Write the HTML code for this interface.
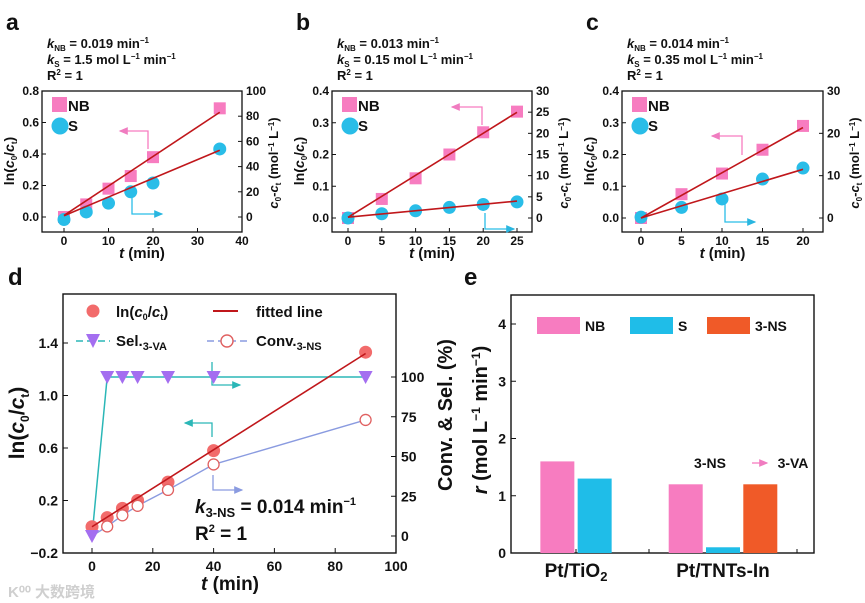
<!DOCTYPE html>
<html><head><meta charset="utf-8"><style>
body{margin:0;background:#fff;}
svg{display:block;font-family:"Liberation Sans","Noto Sans CJK SC",sans-serif;font-weight:bold;}
</style></head><body>
<svg id="fig" width="865" height="603" viewBox="0 0 865 603" xmlns="http://www.w3.org/2000/svg">
<defs>
<marker id="ap" markerWidth="8" markerHeight="8" refX="6" refY="3" orient="auto"><path d="M0,0 L7,3 L0,6 z" fill="#f07cc0"/></marker>
<marker id="ab" markerWidth="8" markerHeight="8" refX="6" refY="3" orient="auto"><path d="M0,0 L7,3 L0,6 z" fill="#29b6e0"/></marker>
<marker id="at" markerWidth="8" markerHeight="8" refX="6" refY="3" orient="auto"><path d="M0,0 L7,3 L0,6 z" fill="#2bb7b7"/></marker>
<marker id="al" markerWidth="8" markerHeight="8" refX="6" refY="3" orient="auto"><path d="M0,0 L7,3 L0,6 z" fill="#8a9be0"/></marker>
</defs>
</svg>
<script>
// ===== Panel a data =====
const aTime=[0,5,10,15,20,35];
const aNB=[0,0.08,0.18,0.26,0.38,0.69];
const aS=[-2,4,11,20,27,54];
const aFitNB=[0.01,0.665];
const aFitS=[1,53];
// ===== Panel b data =====
const bTime=[0,5,10,15,20,25];
const bNB=[0,0.06,0.125,0.2,0.27,0.335];
const bS=[0,1,1.7,2.5,3.2,3.8];
const bFitNB=[0.002,0.333];
const bFitS=[0.2,4];
// ===== Panel c data =====
const cTime=[0,5,10,15,20];
const cNB=[0,0.075,0.14,0.215,0.29];
const cS=[0.2,2.5,4.5,9.2,11.8];
const cFitNB=[0,0.285];
const cFitS=[0,11.5];
// ===== Panel d data =====
const dTime=[0,5,10,15,25,40,90];
const dLn=[0,0.07,0.14,0.2,0.34,0.58,1.33];
const dSel=[0,100,100,100,100,100,100];
const dConvTime=[5,10,15,25,40,90];
const dConv=[6,13,19,29,45,73];
const dFit=[0,1.32];
const dXTicks=[0,20,40,60,80,100];
const dYTicks=[-0.2,0.2,0.6,1.0,1.4];
const dRTicks=[0,25,50,75,100];
// ===== Panel e data =====
const eCategories=["Pt/TiO2","Pt/TNTs-In"];
const eNB=[1.6,1.2];
const eS=[1.3,0.1];
const eNS=[null,1.2];
const eYTicks=[0,1,2,3,4];

const svg=document.getElementById('fig');
const NS='http://www.w3.org/2000/svg';
function el(tag,attrs,parent){const e=document.createElementNS(NS,tag);for(const k in attrs)e.setAttribute(k,attrs[k]);(parent||svg).appendChild(e);return e;}
function txt(x,y,s,size,anchor,parent,extra){const t=el('text',Object.assign({x:x,y:y,'font-size':size,'text-anchor':anchor||'middle',fill:'#111'},extra||{}),parent);t.innerHTML=s;return t;}
function lin(d0,d1,r0,r1){return v=>r0+(v-d0)*(r1-r0)/(d1-d0);}

const PINK='#f77cc0',BLUE='#29bde8',RED='#c0171b';

function smallPanel(cfg){
  const g=el('g',{});
  
  
  const X=lin(cfg.xd[0],cfg.xd[1],cfg.xPix[0],cfg.xPix[1]);
  const YL=lin(0,cfg.ly[1],cfg.y0zero,91);
  const YR=lin(0,cfg.ry[1],cfg.y0zero,91);
  const frame=el('rect',{x:cfg.x0,y:91,width:cfg.x1-cfg.x0,height:141,fill:'none',stroke:'#111','stroke-width':1.3},g);
  
  
  cfg.xt.forEach(v=>{el('line',{x1:X(v),x2:X(v),y1:232,y2:228,stroke:'#111'},g);const t=txt(X(v),245,v,12,'middle',g);});
  cfg.lt.forEach(v=>{el('line',{x1:cfg.x0,x2:cfg.x0+4,y1:YL(v),y2:YL(v),stroke:'#111'},g);const t=txt(cfg.x0-3,YL(v)+4,v.toFixed(1),12,'end',g);});
  cfg.rt.forEach(v=>{el('line',{x1:cfg.x1,x2:cfg.x1-4,y1:YR(v),y2:YR(v),stroke:'#111'},g);const t=txt(cfg.x1+4,YR(v)+4,v,12,'start',g);});
  const xt=txt((cfg.x0+cfg.x1)/2,258,'<tspan font-style="italic">t</tspan> (min)',15,'middle',g);
  
  const yl=txt(0,0,'ln(<tspan font-style="italic">c</tspan><tspan font-size="8" dy="3">0</tspan><tspan dy="-3">/</tspan><tspan font-style="italic">c</tspan><tspan font-size="8" dy="3">t</tspan><tspan dy="-3">)</tspan>',14,'middle',g,{transform:`translate(${cfg.x0-28},161) rotate(-90)`});
  
  const yr=txt(0,0,'<tspan font-style="italic">c</tspan><tspan font-size="8" dy="3">0</tspan><tspan dy="-3">-</tspan><tspan font-style="italic">c</tspan><tspan font-size="8" dy="3">t</tspan><tspan dy="-3"> (mol</tspan><tspan font-size="8" dy="-4">−1</tspan><tspan dy="4"> L</tspan><tspan font-size="8" dy="-4">−1</tspan><tspan dy="4">)</tspan>',13,'middle',g,{transform:`translate(${cfg.x1+36},163) rotate(-90)`});
  
  const pl=txt(cfg.x0-36,30,cfg.letter,23,'start',g);
  const an=el('g',{},g);
  txt(cfg.x0+5,48,'<tspan font-style="italic">k</tspan><tspan font-size="8" dy="3">NB</tspan><tspan dy="-3"> = '+cfg.kNB+' min</tspan><tspan font-size="8" dy="-5">−1</tspan>',13,'start',an);
  txt(cfg.x0+5,64,'<tspan font-style="italic">k</tspan><tspan font-size="8" dy="3">S</tspan><tspan dy="-3"> = '+cfg.kS+' mol L</tspan><tspan font-size="8" dy="-5">−1</tspan><tspan dy="5"> min</tspan><tspan font-size="8" dy="-5">−1</tspan>',13,'start',an);
  txt(cfg.x0+5,80,'R<tspan font-size="8" dy="-5">2</tspan><tspan dy="5"> = 1</tspan>',13,'start',an);
  const lg=el('g',{},g);
  el('rect',{x:cfg.x0+10,y:97,width:15,height:15,fill:PINK},lg);txt(cfg.x0+26,111,'NB',15,'start',lg);
  el('circle',{cx:cfg.x0+18,cy:126,r:8.5,fill:BLUE},lg);txt(cfg.x0+26,131,'S',15,'start',lg);
  el('path',{d:cfg.pinkArrow,fill:'none',stroke:PINK,'stroke-width':1.3,'marker-end':'url(#ap)'},g);
  el('path',{d:cfg.blueArrow,fill:'none',stroke:BLUE,'stroke-width':1.3,'marker-end':'url(#ab)'},g);
  cfg.time.forEach((t,i)=>{const m=el('rect',{x:X(t)-6,y:YL(cfg.nb[i])-6,width:12,height:12,fill:PINK},g);});
  cfg.time.forEach((t,i)=>{const m=el('circle',{cx:X(t),cy:YR(cfg.s[i]),r:6.5,fill:BLUE},g);});
  const tl=cfg.time[cfg.time.length-1];
  const f1=el('line',{x1:X(0),y1:YL(cfg.fitNB[0]),x2:X(tl),y2:YL(cfg.fitNB[1]),stroke:RED,'stroke-width':1.6},g);
  
  const f2=el('line',{x1:X(0),y1:YR(cfg.fitS[0]),x2:X(tl),y2:YR(cfg.fitS[1]),stroke:RED,'stroke-width':1.6},g);
  
}

smallPanel({name:'panel-a',letter:'a',x0:42,x1:242,xd:[0,40],xPix:[64,242],y0zero:217,ly:[0,0.8],ry:[0,100],
  xt:[0,10,20,30,40],lt:[0,0.2,0.4,0.6,0.8],rt:[0,20,40,60,80,100],kNB:'0.019',kS:'1.5',
  time:aTime,nb:aNB,s:aS,fitNB:aFitNB,fitS:aFitS,
  pinkArrow:'M148,149 L148,131 L120,131',blueArrow:'M132,195 L132,214 L162,214'});
smallPanel({name:'panel-b',letter:'b',x0:332,x1:532,xd:[0,25],xPix:[348,517],y0zero:218,ly:[0,0.4],ry:[0,30],
  xt:[0,5,10,15,20,25],lt:[0,0.1,0.2,0.3,0.4],rt:[0,5,10,15,20,25,30],kNB:'0.013',kS:'0.15',
  time:bTime,nb:bNB,s:bS,fitNB:bFitNB,fitS:bFitS,
  pinkArrow:'M482,125 L482,107 L452,107',blueArrow:'M485,213 L485,229 L514,229'});
smallPanel({name:'panel-c',letter:'c',x0:622,x1:823,xd:[0,20],xPix:[641,803],y0zero:218,ly:[0,0.4],ry:[0,30],
  xt:[0,5,10,15,20],lt:[0,0.1,0.2,0.3,0.4],rt:[0,10,20,30],kNB:'0.014',kS:'0.35',
  time:cTime,nb:cNB,s:cS,fitNB:cFitNB,fitS:cFitS,
  pinkArrow:'M742,155 L742,136 L712,136',blueArrow:'M725,203 L725,222 L755,222'});
</script>
<script>
// ===== Panel d =====
(function(){
  const g=el('g',{});
  
  
  const X=lin(0,100,92,396);
  const YL=lin(-0.2,1.4,553,343);
  const YR=lin(0,100,536,377);
  const fr=el('rect',{x:63,y:294,width:333,height:259,fill:'none',stroke:'#111','stroke-width':1.4},g);
  
  dXTicks.forEach(v=>{el('line',{x1:X(v),x2:X(v),y1:553,y2:548,stroke:'#111'},g);const t=txt(X(v),571,v,14,'middle',g);});
  dYTicks.forEach(v=>{el('line',{x1:63,x2:68,y1:YL(v),y2:YL(v),stroke:'#111'},g);const t=txt(58,YL(v)+5,(v<0?'−':'')+Math.abs(v).toFixed(1),14,'end',g);});
  dRTicks.forEach(v=>{el('line',{x1:396,x2:391,y1:YR(v),y2:YR(v),stroke:'#111'},g);const t=txt(401,YR(v)+5,v,14,'start',g);});
  const pl=txt(8,285,'d',24,'start',g);
  const xt=txt(230,590,'<tspan font-style="italic">t</tspan> (min)',19,'middle',g);
  const yt=txt(0,0,'ln(<tspan font-style="italic">c</tspan><tspan font-size="12" dy="5">0</tspan><tspan dy="-5">/</tspan><tspan font-style="italic">c</tspan><tspan font-size="12" dy="5">t</tspan><tspan dy="-5">)</tspan>',21,'middle',g,{transform:'translate(24,423) rotate(-90)'});
  
  const lg=el('g',{},g);
  el('circle',{cx:93,cy:311,r:6.5,fill:'#f26b6b'},lg);
  txt(116,317,'ln(<tspan font-style="italic">c</tspan><tspan font-size="9" dy="3">0</tspan><tspan dy="-3">/</tspan><tspan font-style="italic">c</tspan><tspan font-size="9" dy="3">t</tspan><tspan dy="-3">)</tspan>',15,'start',lg);
  el('line',{x1:213,x2:238,y1:311,y2:311,stroke:RED,'stroke-width':2},lg);
  txt(256,317,'fitted line',15,'start',lg);
  el('line',{x1:76,x2:110,y1:341,y2:341,stroke:'#2bb7b7','stroke-width':1.5,'stroke-dasharray':'7,4'},lg);
  el('path',{d:'M86,334 L100,334 L93,348 z',fill:'#a46ef0'},lg);
  txt(116,346,'Sel.<tspan font-size="11" dy="4">3-VA</tspan>',15,'start',lg);
  el('line',{x1:207,x2:247,y1:341,y2:341,stroke:'#8a9be0','stroke-width':1.5,'stroke-dasharray':'7,4'},lg);
  el('circle',{cx:227,cy:341,r:6,fill:'#fff',stroke:'#e06060','stroke-width':1.4},lg);
  txt(256,346,'Conv.<tspan font-size="11" dy="4">3-NS</tspan>',15,'start',lg);
  el('path',{d:'M212,362 L212,385 L240,385',fill:'none',stroke:'#2bb7b7','stroke-width':1.3,'marker-end':'url(#at)'},g);
  el('path',{d:'M212,437 L212,423 L185,423',fill:'none',stroke:'#2bb7b7','stroke-width':1.3,'marker-end':'url(#at)'},g);
  el('path',{d:'M213,475 L213,490 L242,490',fill:'none',stroke:'#8a9be0','stroke-width':1.3,'marker-end':'url(#al)'},g);
  const an=el('g',{},g);
  txt(195,513,'<tspan font-style="italic">k</tspan><tspan font-size="13" dy="4">3-NS</tspan><tspan dy="-4"> = 0.014 min</tspan><tspan font-size="11" dy="-8">−1</tspan>',19,'start',an);
  txt(195,540,'R<tspan font-size="11" dy="-8">2</tspan><tspan dy="8"> = 1</tspan>',19,'start',an);
  const selPts=dTime.map((t,i)=>X(t)+','+YR(dSel[i])).join(' ');
  const sl=el('polyline',{points:selPts,fill:'none',stroke:'#2bb7b7','stroke-width':1.5},g);
  
  const convPts=[X(0)+','+YR(0)].concat(dConvTime.map((t,i)=>X(t)+','+YR(dConv[i]))).join(' ');
  const cl=el('polyline',{points:convPts,fill:'none',stroke:'#8a9be0','stroke-width':1.4},g);
  
  dTime.forEach((t,i)=>{const m=el('circle',{cx:X(t),cy:YL(dLn[i]),r:6.5,fill:'#f26b6b'},g);});
  const fl=el('line',{x1:X(0),y1:YL(dFit[0]),x2:X(90),y2:YL(dFit[1]),stroke:RED,'stroke-width':1.6},g);
  
  dConvTime.forEach((t,i)=>{const m=el('circle',{cx:X(t),cy:YR(dConv[i]),r:5.5,fill:'#fff',stroke:'#e06060','stroke-width':1.3},g);});
  dTime.forEach((t,i)=>{const x=X(t),y=YR(dSel[i]);const m=el('path',{d:`M${x-7},${y-6} L${x+7},${y-6} L${x},${y+7} z`,fill:'#a46ef0'},g);});
  const wm=txt(8,597,'K⁰⁰ 大数跨境',15,'start',g,{fill:'#cfcfcf'});
  
})();

// ===== Panel e =====
(function(){
  const g=el('g',{});
  
  
  const Y=lin(0,4,553,324);
  const centers=[576,723];
  const BW=34,STEP=37.3;
  const fr=el('rect',{x:511,y:295,width:303,height:258,fill:'none',stroke:'#111','stroke-width':1.4},g);
  
  eYTicks.forEach(v=>{el('line',{x1:511,x2:516,y1:Y(v),y2:Y(v),stroke:'#111'},g);const t=txt(506,Y(v)+5,v,14,'end',g);});
  [576,649,723,797].forEach(x=>el('line',{x1:x,x2:x,y1:553,y2:549,stroke:'#111'},g));
  eCategories.forEach((c,i)=>{const lab=c==='Pt/TiO2'?'Pt/TiO<tspan font-size="13" dy="4">2</tspan>':c;const t=txt(centers[i],577,lab,19,'middle',g);});
  const pl=txt(464,285,'e',24,'start',g);
  const yt=txt(0,0,'Conv. &amp; Sel. (%)',20,'middle',g,{transform:'translate(452,415) rotate(-90)'});
  
  const yt2=txt(0,0,'<tspan font-style="italic">r</tspan> (mol L<tspan font-size="12" dy="-7">−1</tspan><tspan dy="7"> min</tspan><tspan font-size="12" dy="-7">−1</tspan><tspan dy="7">)</tspan>',20,'middle',g,{transform:'translate(487,420) rotate(-90)'});
  
  const series=[[eNB,PINK,'nb'],[eS,'#1fbde8','s'],[eNS,'#f05a28','3ns']];
  eCategories.forEach((c,ci)=>{
    const n=ci===0?2:3;
    const start=centers[ci]-(n*BW+(n-1)*(STEP-BW))/2;
    series.forEach((s,si)=>{const v=s[0][ci];if(v===null)return;
      const x=start+si*STEP;
      const b=el('rect',{x:x,y:Y(v),width:BW,height:Y(0)-Y(v),fill:s[1]},g);
      });
  });
  const lg=el('g',{},g);
  el('rect',{x:537,y:317,width:43,height:17,fill:PINK},lg);txt(585,331,'NB',14,'start',lg);
  el('rect',{x:630,y:317,width:43,height:17,fill:'#1fbde8'},lg);txt(678,331,'S',14,'start',lg);
  el('rect',{x:707,y:317,width:43,height:17,fill:'#f05a28'},lg);txt(755,331,'3-NS',14,'start',lg);
  const ra=el('g',{},g);
  txt(710,468,'3-NS',14,'middle',ra);
  el('line',{x1:752,x2:767,y1:463,y2:463,stroke:PINK,'stroke-width':1.3,'marker-end':'url(#ap)'},ra);
  txt(793,468,'3-VA',14,'middle',ra);
})();
</script>
</body></html>
